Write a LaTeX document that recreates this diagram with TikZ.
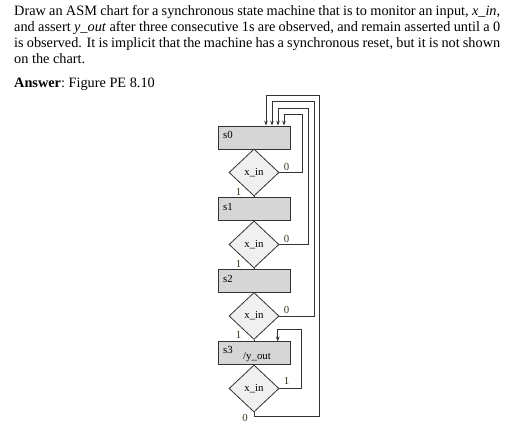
\documentclass[tikz,border=0pt]{standalone}
\usepackage{fontspec}
\setmainfont{Liberation Serif}
\usetikzlibrary{shapes.geometric,arrows.meta}
\definecolor{boxfill}{HTML}{D6D6D6}
\definecolor{diafill}{HTML}{F0F0F0}
\definecolor{ln}{HTML}{333333}
\definecolor{lbl}{HTML}{3E3518}
\tikzset{
  statebox/.style={draw=ln, line width=0.8pt, fill=boxfill, minimum width=72pt, minimum height=23pt, inner sep=0pt},
  decision/.style={draw=ln, line width=0.8pt, fill=diafill, diamond, minimum width=50pt, minimum height=47pt, inner sep=0pt, font=\fontsize{10.8}{12}\selectfont},
  stlabel/.style={inner sep=0pt, anchor=west, font=\fontsize{10.8}{12}\selectfont},
  branch/.style={inner sep=0pt, text=lbl, font=\fontsize{10.8}{12}\selectfont},
  wire/.style={draw=ln, line width=0.8pt},
  arr/.style={wire, -{Stealth[length=5pt,width=3.6pt]}}
}
\begin{document}
\begin{tikzpicture}[x=1pt,y=-1pt]
\useasboundingbox (0,0) rectangle (514,430);
% question text
\node[anchor=base west, inner sep=0pt] (q) at (14,16) {\parbox[t]{486pt}{\fontsize{14.3}{16}\selectfont
Draw an ASM chart for a synchronous state machine that is to monitor an input, \textit{x\_in},\linebreak
and assert \textit{y\_out} after three consecutive 1s are observed, and remain asserted until a 0\linebreak
is observed. It is implicit that the machine has a synchronous reset, but it is not shown\linebreak
on the chart.}};
\node[anchor=base west, inner sep=0pt] (ans) at (14,87.3) {\fontsize{14.3}{16}\selectfont\textbf{Answer}:\ Figure PE 8.10};
% states and decisions
\node[statebox] (s0) at (254,137.5) {};
\node[decision] (d1) at (254,172.5) {x\_in};
\node[statebox] (s1) at (254,209) {};
\node[decision] (d2) at (254,244.5) {x\_in};
\node[statebox] (s2) at (254,280.8) {};
\node[decision] (d3) at (254,316) {x\_in};
\node[statebox] (s3) at (254,353.3) {};
\node[decision] (d4) at (254,388.5) {x\_in};
% state labels
\node[stlabel] (l0) at (223,135) {s0};
\node[stlabel] (l1) at (223,206.5) {s1};
\node[stlabel] (l2) at (223,278.5) {s2};
\node[stlabel] (l3) at (223,350) {s3};
\node[inner sep=0pt, font=\fontsize{10.8}{12}\selectfont] (o3) at (257,357.5) {/y\_out};
% vertical links
\draw[wire] (s0.south) -- (d1.north);
\draw[wire] (d1.south) -- (s1.north);
\draw[wire] (s1.south) -- (d2.north);
\draw[wire] (d2.south) -- (s2.north);
\draw[wire] (s2.south) -- (d3.north);
\draw[wire] (d3.south) -- (s3.north);
\draw[wire] (s3.south) -- (d4.north);
% feedback corners
\coordinate (r1) at (302.3,114.3);
\coordinate (t1) at (284,114.3);
\coordinate (r2) at (308.3,108.3);
\coordinate (t2) at (278,108.3);
\coordinate (r3) at (314.3,101.7);
\coordinate (t3) at (272,101.7);
\coordinate (b4) at (254,416.5);
\coordinate (r4) at (319.3,95.7);
\coordinate (t4) at (266,95.7);
\coordinate (rs) at (301.7,329.3);
\coordinate (ts) at (277.7,329.3);
\draw[arr] (d1.east) -| (r1) -- (t1) -- (t1 |- s0.north);
\draw[arr] (d2.east) -| (r2) -- (t2) -- (t2 |- s0.north);
\draw[arr] (d3.east) -| (r3) -- (t3) -- (t3 |- s0.north);
\draw[arr] (d4.south) -- (b4) -| (r4) -- (t4) -- (t4 |- s0.north);
\draw[arr] (d4.east) -| (rs) -- (ts) -- (ts |- s3.north);
% branch labels
\node[branch] (z1) at (286.5,166.5) {0};
\node[branch] (o1) at (238.5,191.5) {1};
\node[branch] (z2) at (286.5,238.5) {0};
\node[branch] (o2) at (238.5,263.5) {1};
\node[branch] (z3) at (286.5,310) {0};
\node[branch] (o3b) at (238.5,335) {1};
\node[branch] (o4) at (286.5,381) {1};
\node[branch] (z4) at (245,417.5) {0};
\end{tikzpicture}
\end{document}
